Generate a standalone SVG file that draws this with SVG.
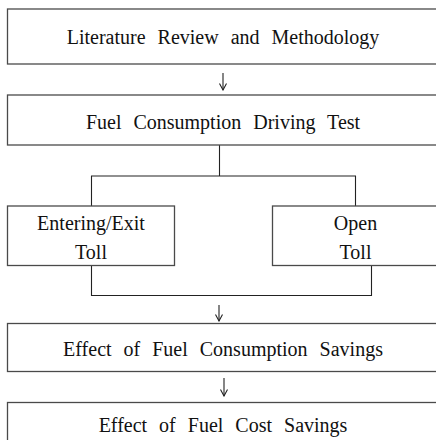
<svg xmlns="http://www.w3.org/2000/svg" width="436" height="440" viewBox="0 0 436 440">
<defs>
<style>
.box{fill:#fff;stroke:#4a4a4a;stroke-width:1.3}
.lbl{font-family:"Liberation Serif","Times New Roman",serif;font-size:20px;fill:#111;text-anchor:middle;word-spacing:7px}
.conn{fill:none;stroke:#222;stroke-width:1.1}
</style>
<marker id="arr" viewBox="0 0 10 10" refX="9" refY="5" markerWidth="10" markerHeight="10" markerUnits="userSpaceOnUse" orient="auto">
<path d="M2.5,1.5 L9,5 L2.5,8.5" fill="none" stroke="#222" stroke-width="1.1"/>
</marker>
</defs>
<rect width="436" height="440" fill="#fff"/>
<g id="connectors">
<line class="conn" x1="223" y1="73" x2="223" y2="90" marker-end="url(#arr)"/>
<polyline class="conn" points="219.5,145 219.5,176"/>
<polyline class="conn" points="91.5,206 91.5,176 355.5,176 355.5,206"/>
<polyline class="conn" points="91.5,266 91.5,295.5 371.5,295.5 371.5,266"/>
<line class="conn" x1="219" y1="305" x2="219" y2="321" marker-end="url(#arr)"/>
<line class="conn" x1="224" y1="378" x2="224" y2="396" marker-end="url(#arr)"/>
</g>
<g id="literature">
<rect class="box" x="7.5" y="9" width="432" height="55"/>
<text class="lbl" x="223" y="44">Literature Review and Methodology</text>
</g>
<g id="driving-test">
<rect class="box" x="7.5" y="95" width="432" height="50"/>
<text class="lbl" x="223" y="128.5">Fuel Consumption Driving Test</text>
</g>
<g id="entering-exit">
<rect class="box" x="7.5" y="206" width="167" height="59.5"/>
<text class="lbl" x="91" y="229.5">Entering/Exit</text>
<text class="lbl" x="91" y="259">Toll</text>
</g>
<g id="open-toll">
<rect class="box" x="272.5" y="206" width="170" height="59.5"/>
<text class="lbl" x="355.5" y="229.5">Open</text>
<text class="lbl" x="355.5" y="259">Toll</text>
</g>
<g id="consumption-savings">
<rect class="box" x="7.5" y="323.5" width="432" height="48"/>
<text class="lbl" x="223" y="355.5">Effect of Fuel Consumption Savings</text>
</g>
<g id="cost-savings">
<rect class="box" x="7.5" y="402.5" width="432" height="50"/>
<text class="lbl" x="223" y="431.5">Effect of Fuel Cost Savings</text>
</g>
</svg>
